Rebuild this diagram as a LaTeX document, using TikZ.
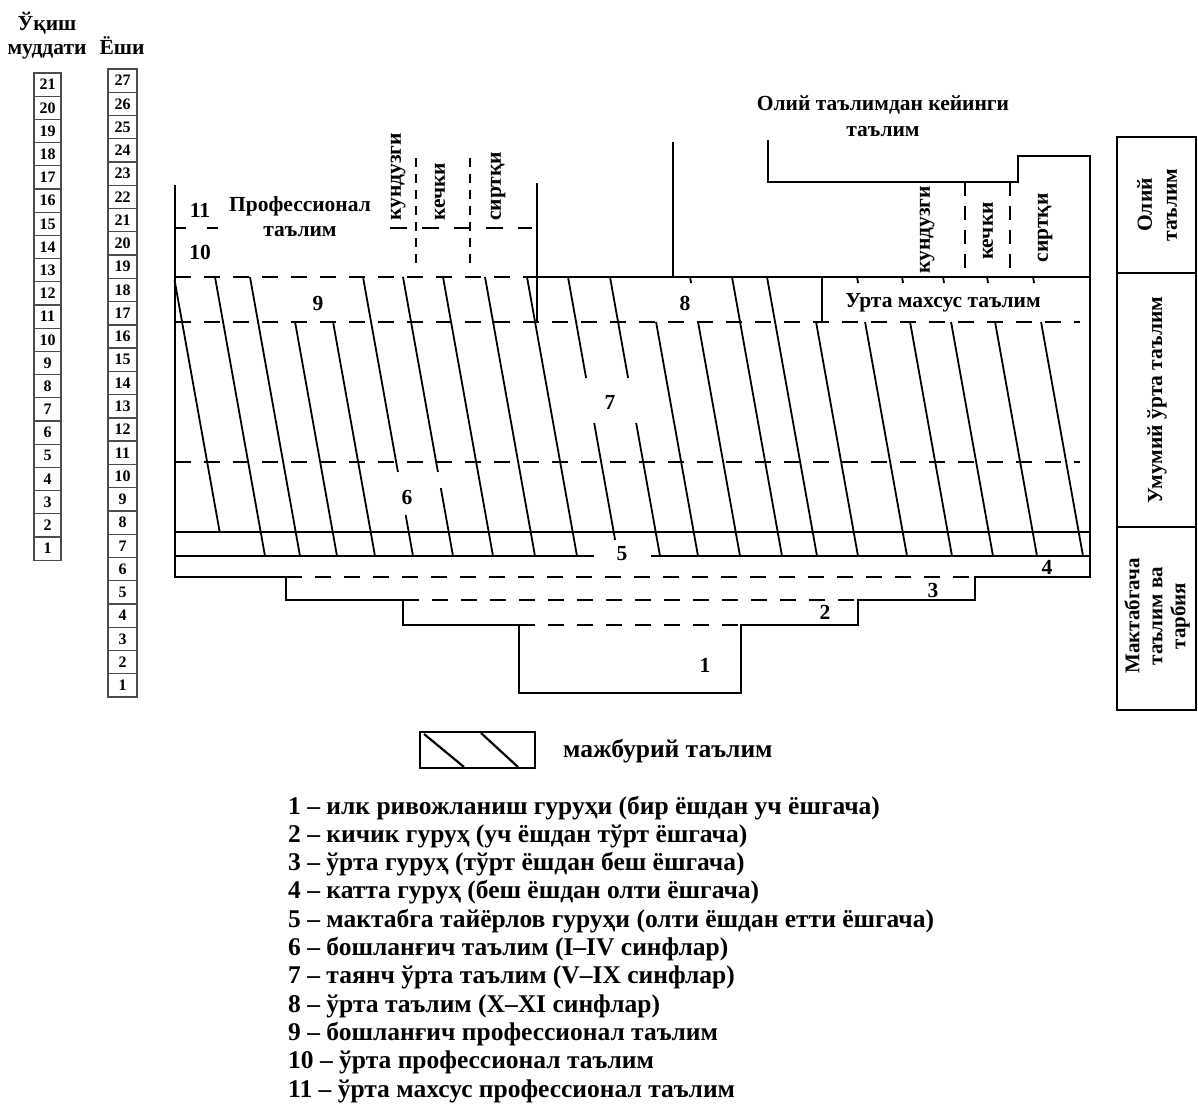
\documentclass[tikz,border=0pt]{standalone}
\usepackage{fontspec}
\setmainfont{Liberation Serif}
\begin{document}
\begin{tikzpicture}[x=1pt,y=-1pt,
  frame/.style={line width=2.6pt, line join=miter},
  hatchl/.style={line width=1.8pt},
  dashl/.style={line width=2.6pt, dash pattern=on 16pt off 13pt},
  dashv/.style={line width=2pt, dash pattern=on 9pt off 7pt},
  lbl/.style={font=\bfseries\fontsize{21.5}{25}\selectfont, inner sep=0pt},
  numbox/.style={draw=black!70, line width=1.3pt, minimum height=23.2pt, inner sep=0pt, font=\bfseries\fontsize{16}{16}\selectfont},
  leg/.style={font=\bfseries\fontsize{25.5}{28}\selectfont, inner sep=0pt, anchor=base west},
]
\useasboundingbox (0,0) rectangle (1198,1106);

% headers of the left columns
\node[lbl, anchor=base] (hdrA) at (47,30) {Ўқиш};
\node[lbl, anchor=base] (hdrB) at (47,54) {муддати};
\node[lbl, anchor=base] (hdrC) at (122,54) {Ёши};

% column boxes
\foreach \j in {0,...,20}{
  \pgfmathtruncatemacro{\n}{21-\j}
  \node[numbox, minimum width=27pt] (m\n) at (47.5,{84.6+23.2*\j}) {\n};
}
\foreach \j in {0,...,26}{
  \pgfmathtruncatemacro{\n}{27-\j}
  \node[numbox, minimum width=29pt] (e\n) at (122.5,{80.6+23.26*\j}) {\n};
}

% hatch lines
\foreach \t/\ya/\yb in {174/280/532, 215/277/556, 250/277/556, 287/322/556, 325/322/556,
  363/277/472, 363/515/556, 403/277/472, 403/488/556, 443/277/556, 485/277/556, 527/277/556,
  568/277/378, 568/423/540, 610/277/378, 610/423/556, 648/322/556, 690/322/556, 690/277/283,
  732/277/556, 767/277/556, 808/322/556, 857/322/556, 857/277/283, 902/322/556, 902/277/283,
  943/322/556, 943/277/283, 987/322/556, 987/277/283, 1033/322/556, 1033/277/283}
  \draw[hatchl] ({\t+(\ya-277)*50/279},\ya) -- ({\t+(\yb-277)*50/279},\yb);

% outer outline
\draw[frame] (175,185) -- (175,577) -- (286,577) -- (286,600) -- (403,600) -- (403,625)
  -- (519,625) -- (519,693) -- (741,693) -- (741,625) -- (858,625) -- (858,600)
  -- (975,600) -- (975,577) -- (1090,577) -- (1090,156) -- (1018,156) -- (1018,182)
  -- (768,182) -- (768,140);

% preschool dashed boundaries
\draw[dashl] (286,577) -- (975,577);
\draw[dashl] (403,600) -- (858,600);
\draw[dashl] (519,625) -- (741,625);

% horizontal levels
\draw[frame] (175,532) -- (1090,532);
\draw[frame] (175,556) -- (594,556);
\draw[frame] (651,556) -- (1090,556);
\draw[frame] (537,277) -- (1090,277);
\draw[dashl] (175,277) -- (537,277);
\draw[dashl] (175,322) -- (1080,322);
\draw[dashl] (175,462) -- (1080,462);
\draw[dashl, dash pattern=on 11pt off 21pt] (175,228) -- (222,228);
\draw[dashl, dash pattern=on 17pt off 15pt] (390,228) -- (532,228);

% verticals
\draw[frame] (537,183) -- (537,322);
\draw[frame] (822,277) -- (822,322);
\draw[frame] (673,142) -- (673,277);
\draw[dashv] (416,158) -- (416,263);
\draw[dashv] (470,158) -- (470,263);
\draw[dashv, dash pattern=on 14pt off 10pt] (965,182) -- (965,277);
\draw[dashv, dash pattern=on 14pt off 10pt] (1010,182) -- (1010,277);

% labels in the diagram
\node[lbl] (l11) at (200,210) {11};
\node[lbl] (l10) at (200,252) {10};
\node[lbl] (prof1) at (300,206) {Профессионал};
\node[lbl] (prof2) at (300,232) {таълим};
\node[lbl, rotate=90, anchor=west] (kunL) at (398,221) {кундузги};
\node[lbl, rotate=90, anchor=west] (kechL) at (440,221) {кечки};
\node[lbl, rotate=90, anchor=west] (sirL) at (498,221) {сиртқи};
\node[lbl] (olT1) at (883,105) {Олий таълимдан кейинги};
\node[lbl] (olT2) at (883,132) {таълим};
\node[lbl, rotate=90] (kunR) at (927,230) {кундузги};
\node[lbl, rotate=90] (kechR) at (988,231) {кечки};
\node[lbl, rotate=90] (sirR) at (1045,228) {сиртқи};
\node[lbl] (n9) at (318,303) {9};
\node[lbl] (n8) at (685,303) {8};
\node[lbl] (urta) at (943,303) {Урта махсус таълим};
\node[lbl] (n7) at (610,402) {7};
\node[lbl] (n6) at (407,497) {6};
\node[lbl] (n5) at (622,554) {5};
\node[lbl] (n4) at (1047,567) {4};
\node[lbl] (n3) at (933,590) {3};
\node[lbl] (n2) at (825,612) {2};
\node[lbl] (n1) at (705,665) {1};

% right column
\draw[frame] (1117,137) rectangle (1196,710);
\draw[frame] (1117,273) -- (1196,273);
\draw[frame] (1117,527) -- (1196,527);
\node[lbl, rotate=90, align=center] (rc1) at (1157,205) {Олий\\таълим};
\node[lbl, rotate=90] (rc2) at (1157,400) {Умумий ўрта таълим};
\node[lbl, rotate=90, align=center, font=\bfseries\fontsize{21}{23}\selectfont] (rc3) at (1157,616) {Мактабгача\\таълим ва\\тарбия};

% legend
\draw[frame] (420,732) rectangle (535,768);
\draw[frame, line width=2.2pt] (424,734) -- (464,767);
\draw[frame, line width=2.2pt] (481,733) -- (518,767);
\node[leg] (lgm) at (563,757) {мажбурий таълим};
\foreach \s [count=\i] in {1 – илк ривожланиш гуруҳи (бир ёшдан уч ёшгача),
  2 – кичик гуруҳ (уч ёшдан тўрт ёшгача),
  3 – ўрта гуруҳ (тўрт ёшдан беш ёшгача),
  4 – катта гуруҳ (беш ёшдан олти ёшгача),
  5 – мактабга тайёрлов гуруҳи (олти ёшдан етти ёшгача),
  6 – бошланғич таълим (I–IV синфлар),
  7 – таянч ўрта таълим (V–IX синфлар),
  8 – ўрта таълим (X–XI синфлар),
  9 – бошланғич профессионал таълим,
  10 – ўрта профессионал таълим,
  11 – ўрта махсус профессионал таълим}
  \node[leg] (leg\i) at (288,{814+28.3*(\i-1)}) {\s};
\end{tikzpicture}
\end{document}
